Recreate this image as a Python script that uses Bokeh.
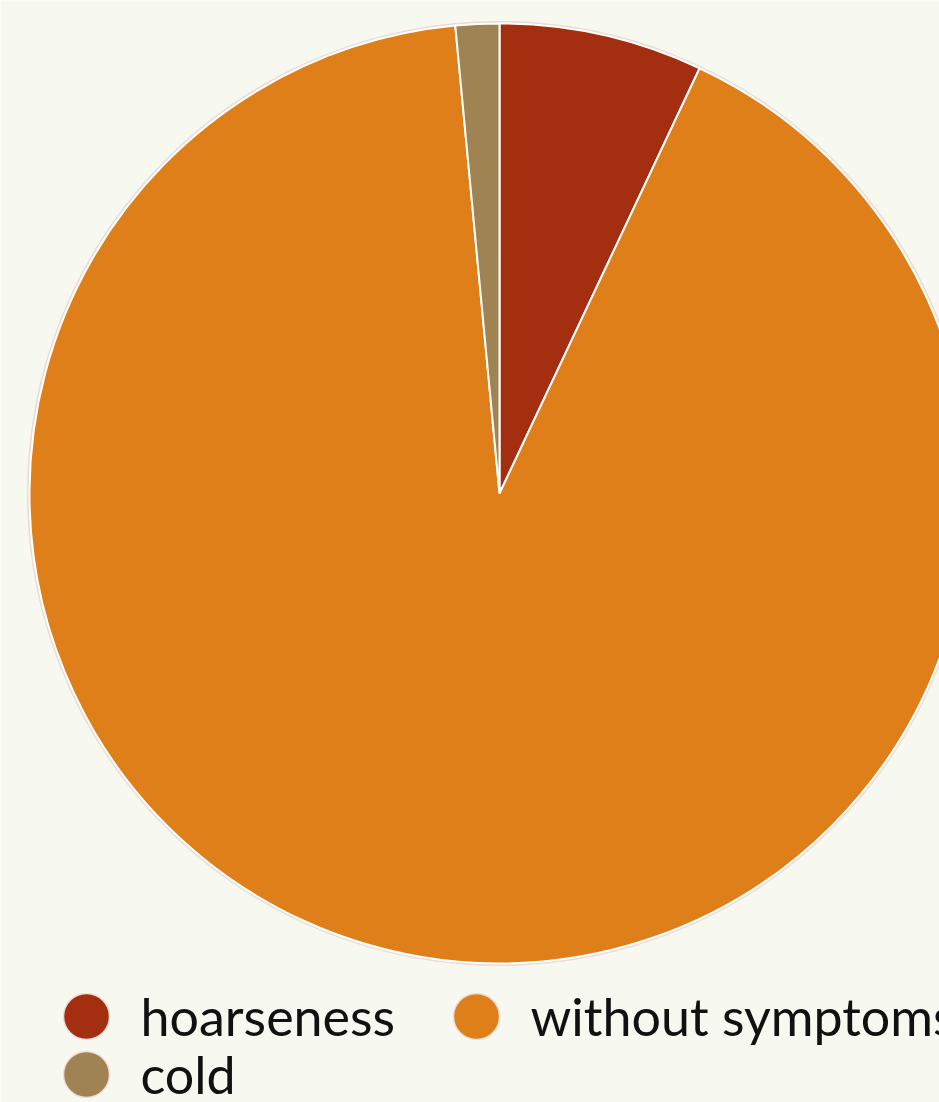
import math
from bokeh.plotting import figure
from bokeh.models import Range1d, ColumnDataSource
from bokeh.core.properties import value
from bokeh.embed import file_html
from bokeh.resources import INLINE

# data
categories = ["hoarseness", "without symptoms", "cold"]
values = [7.0, 91.5, 1.5]
colors = ["#a32f10", "#df7f19", "#a08352"]

W, H = 939, 1102
p = figure(width=W, height=H, output_backend="svg", toolbar_location=None,
           x_range=Range1d(0, W), y_range=Range1d(0, H), min_border=0)
p.axis.visible = False
p.grid.visible = False
p.outline_line_color = None
p.background_fill_color = "#f7f9f1"
p.border_fill_color = "#f7f9f1"

cx, cy, r = 499, 609, 470
total = sum(values)
starts, ends = [], []
a = math.pi / 2
for v in values:
    starts.append(a)
    a -= v / total * 2 * math.pi
    ends.append(a)

src = ColumnDataSource(dict(cat=categories, val=values, color=colors,
                            start=starts, end=ends))
# soft outline behind pie
p.circle(x=cx, y=cy, radius=r + 1.5, fill_color=None, line_color="#eadbd3", line_width=2)
p.wedge(x=cx, y=cy, radius=r, start_angle="start", end_angle="end", direction="clock",
        fill_color="color", line_color="white", line_width=2, source=src)

# legend (manual)
lx = [86, 476, 86]
ly = [86, 86, 28]
tx = [v + 54 for v in lx]
ty = [v + 1 for v in ly]
lsrc = ColumnDataSource(dict(x=lx, y=ly, tx=tx, ty=ty, cat=categories, color=colors))
p.scatter(x="x", y="y", size=46, marker="circle", fill_color="color",
          line_color="#efdcd8", line_width=1.5, source=lsrc)
p.text(x="tx", y="ty", text="cat", text_font=value("Lato"), text_font_size="52px",
       text_color="#111111", text_baseline="alphabetic", text_align="left", source=lsrc)

open("out.html", "w").write(file_html(p, INLINE))
